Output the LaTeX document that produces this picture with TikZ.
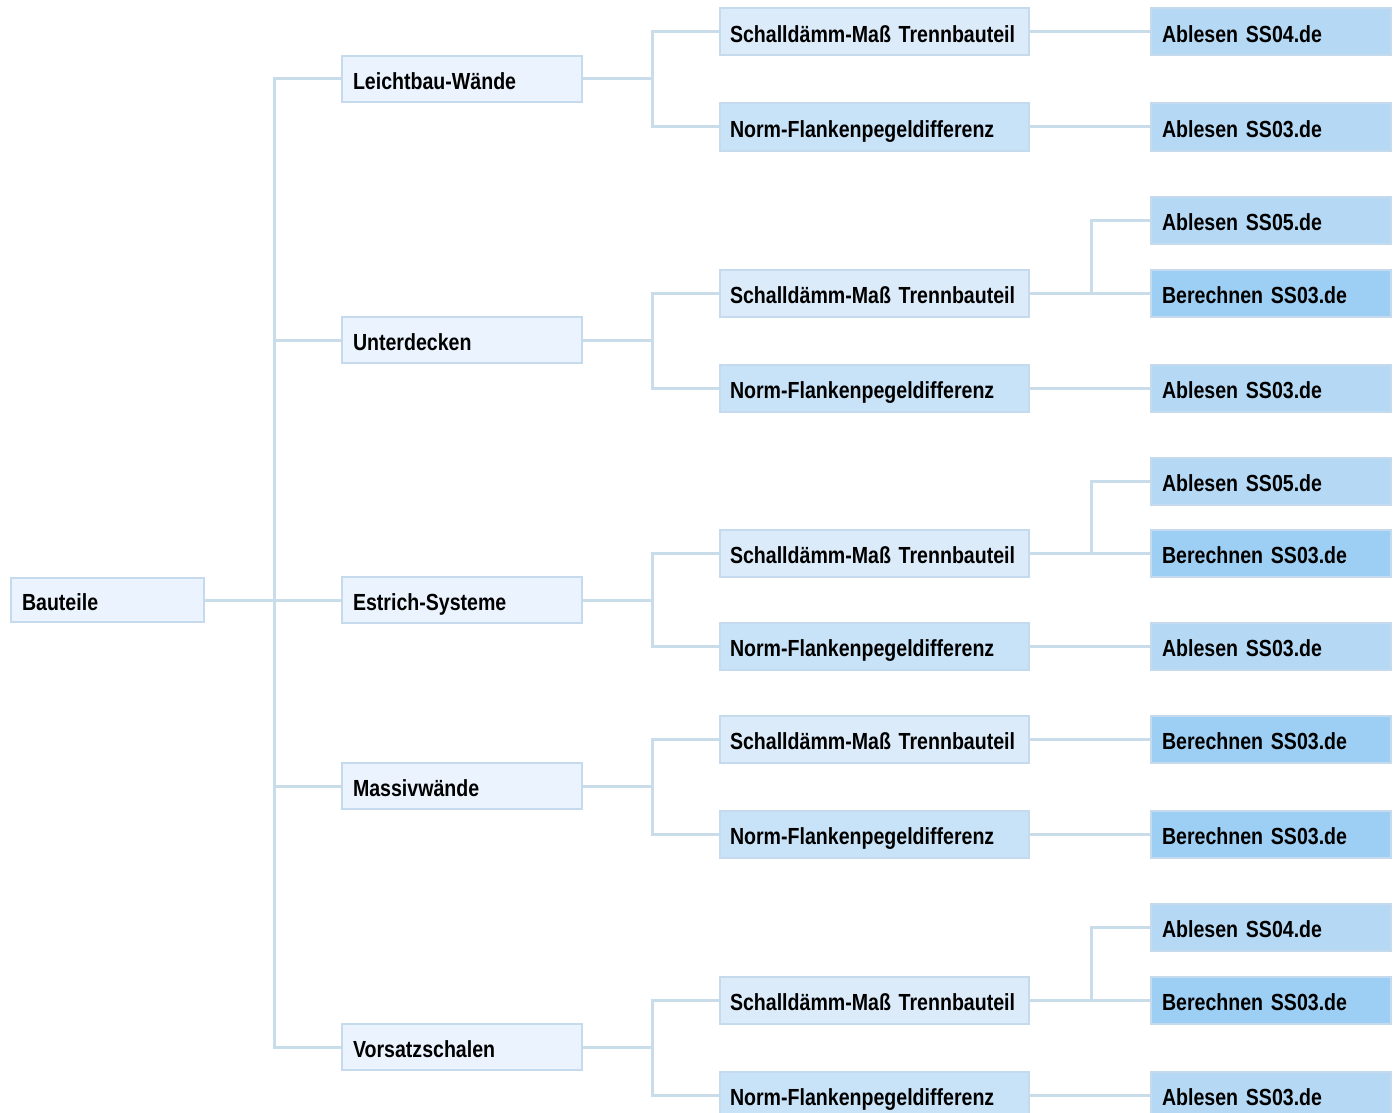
\documentclass[tikz,border=0pt]{standalone}
\usepackage{fontspec}
\setmainfont[FakeStretch=0.84, WordSpace=0.8]{Liberation Sans}
\definecolor{linecol}{HTML}{C8DCEA}
\definecolor{bordercol}{HTML}{C5DAEC}
\definecolor{fillroot}{HTML}{EBF4FE}
\definecolor{fillschall}{HTML}{DCEBFA}
\definecolor{fillnorm}{HTML}{C8E3F8}
\definecolor{fillablesen}{HTML}{B5D9F5}
\definecolor{fillberechnen}{HTML}{9DCEF3}
\begin{document}
\begin{tikzpicture}[x=1pt, y=-1pt,
    box/.style={rectangle, draw=bordercol, line width=2pt, anchor=west, align=left, inner xsep=11pt,
        text height=21pt, text depth=0pt, font=\fontsize{23.3}{28}\selectfont\bfseries},
    root/.style={box, fill=fillroot, text width=171pt, minimum height=44pt},
    part/.style={box, fill=fillroot, text width=218pt, minimum height=46pt},
    schall/.style={box, fill=fillschall, inner xsep=10pt, text width=289pt, minimum height=47pt},
    norm/.style={box, fill=fillnorm, inner xsep=10pt, text width=289pt, minimum height=47pt},
    ablesen/.style={box, fill=fillablesen, text width=218pt, minimum height=47pt},
    berechnen/.style={box, fill=fillberechnen, text width=218pt, minimum height=47pt},
    link/.style={draw=linecol, line width=3pt}]
    \useasboundingbox (0,0) rectangle (1397,1113);
    \clip (0,0) rectangle (1397,1113);

    % Nodes
    \node (root) [root] at (10,600) {Bauteile};

    \node (leicht) [part] at (341,79) {Leichtbau-Wände};
    \node (unter) [part] at (341,340) {Unterdecken};
    \node (estrich) [part] at (341,600) {Estrich-Systeme};
    \node (massiv) [part] at (341,786) {Massivwände};
    \node (vorsatz) [part] at (341,1047) {Vorsatzschalen};

    \node (leichtS) [schall] at (719,32) {Schalldämm-Maß Trennbauteil};
    \node (leichtN) [norm] at (719,127) {Norm-Flankenpegeldifferenz};
    \node (unterS) [schall] at (719,293) {Schalldämm-Maß Trennbauteil};
    \node (unterN) [norm] at (719,388) {Norm-Flankenpegeldifferenz};
    \node (estrichS) [schall] at (719,553) {Schalldämm-Maß Trennbauteil};
    \node (estrichN) [norm] at (719,646) {Norm-Flankenpegeldifferenz};
    \node (massivS) [schall] at (719,739) {Schalldämm-Maß Trennbauteil};
    \node (massivN) [norm] at (719,834) {Norm-Flankenpegeldifferenz};
    \node (vorsatzS) [schall] at (719,1000) {Schalldämm-Maß Trennbauteil};
    \node (vorsatzN) [norm] at (719,1095) {Norm-Flankenpegeldifferenz};

    \node (leichtSa) [ablesen] at (1150,32) {Ablesen SS04.de};
    \node (leichtNa) [ablesen] at (1150,127) {Ablesen SS03.de};
    \node (unterSa) [ablesen] at (1150,220) {Ablesen SS05.de};
    \node (unterSb) [berechnen] at (1150,293) {Berechnen SS03.de};
    \node (unterNa) [ablesen] at (1150,388) {Ablesen SS03.de};
    \node (estrichSa) [ablesen] at (1150,481) {Ablesen SS05.de};
    \node (estrichSb) [berechnen] at (1150,553) {Berechnen SS03.de};
    \node (estrichNa) [ablesen] at (1150,646) {Ablesen SS03.de};
    \node (massivSb) [berechnen] at (1150,739) {Berechnen SS03.de};
    \node (massivNb) [berechnen] at (1150,834) {Berechnen SS03.de};
    \node (vorsatzSa) [ablesen] at (1150,927) {Ablesen SS04.de};
    \node (vorsatzSb) [berechnen] at (1150,1000) {Berechnen SS03.de};
    \node (vorsatzNa) [ablesen] at (1150,1095) {Ablesen SS03.de};

    % Lines
    \draw[link] (root.east) -- ++(69,0) |- (leicht.west);
    \draw[link] (root.east) -- ++(69,0) |- (unter.west);
    \draw[link] (root.east) -- (estrich.west);
    \draw[link] (root.east) -- ++(69,0) |- (massiv.west);
    \draw[link] (root.east) -- ++(69,0) |- (vorsatz.west);

    \draw[link] (leicht.east) -- ++(69,0) |- (leichtS.west);
    \draw[link] (leicht.east) -- ++(69,0) |- (leichtN.west);
    \draw[link] (unter.east) -- ++(69,0) |- (unterS.west);
    \draw[link] (unter.east) -- ++(69,0) |- (unterN.west);
    \draw[link] (estrich.east) -- ++(69,0) |- (estrichS.west);
    \draw[link] (estrich.east) -- ++(69,0) |- (estrichN.west);
    \draw[link] (massiv.east) -- ++(69,0) |- (massivS.west);
    \draw[link] (massiv.east) -- ++(69,0) |- (massivN.west);
    \draw[link] (vorsatz.east) -- ++(69,0) |- (vorsatzS.west);
    \draw[link] (vorsatz.east) -- ++(69,0) |- (vorsatzN.west);

    \draw[link] (leichtS.east) -- (leichtSa.west);
    \draw[link] (leichtN.east) -- (leichtNa.west);
    \draw[link] (unterS.east) -- ++(61,0) |- (unterSa.west);
    \draw[link] (unterS.east) -- (unterSb.west);
    \draw[link] (unterN.east) -- (unterNa.west);
    \draw[link] (estrichS.east) -- ++(61,0) |- (estrichSa.west);
    \draw[link] (estrichS.east) -- (estrichSb.west);
    \draw[link] (estrichN.east) -- (estrichNa.west);
    \draw[link] (massivS.east) -- (massivSb.west);
    \draw[link] (massivN.east) -- (massivNb.west);
    \draw[link] (vorsatzS.east) -- ++(61,0) |- (vorsatzSa.west);
    \draw[link] (vorsatzS.east) -- (vorsatzSb.west);
    \draw[link] (vorsatzN.east) -- (vorsatzNa.west);
\end{tikzpicture}
\end{document}
